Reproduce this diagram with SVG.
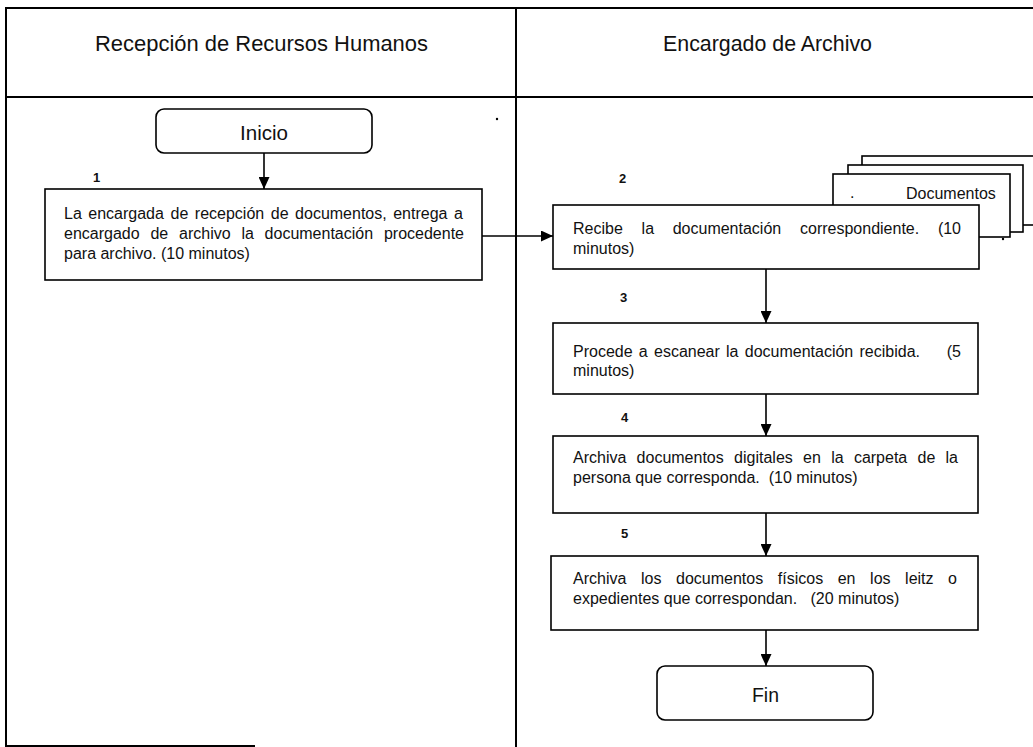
<svg xmlns="http://www.w3.org/2000/svg" width="1033" height="747" viewBox="0 0 1033 747">
<style>
.lane{stroke:#000;stroke-width:2;fill:none}
.box{fill:#fff;stroke:#000;stroke-width:1.6}
.term{fill:#fff;stroke:#000;stroke-width:1.6}
.hdr{font-family:"Liberation Sans",Arial,sans-serif;font-size:22px;fill:#111}
.txt{font-family:"Liberation Sans",Arial,sans-serif;font-size:16px;fill:#111}
.ttl{font-family:"Liberation Sans",Arial,sans-serif;font-size:20px;fill:#111}
.num{font-family:"Liberation Sans",Arial,sans-serif;font-size:13px;font-weight:bold;fill:#111}
.e{text-anchor:end}
.con{stroke:#000;stroke-width:1.6;fill:none;marker-end:url(#ah)}
</style>
<defs>
<marker id="ah" markerUnits="userSpaceOnUse" markerWidth="12" markerHeight="11" refX="12" refY="5.5" orient="auto">
<path d="M0,0 L12,5.5 L0,11 z" fill="#000"/>
</marker>
</defs>
<rect width="1033" height="747" fill="#fff"/>
<g id="lanes">
<line class="lane" x1="5" y1="8" x2="1033" y2="8"/>
<line class="lane" x1="5" y1="97" x2="1033" y2="97"/>
<line class="lane" x1="6" y1="8" x2="6" y2="747"/>
<line class="lane" x1="516" y1="8" x2="516" y2="747"/>
<line class="lane" x1="6" y1="746" x2="255" y2="746"/>
<text class="hdr" x="95" y="51" textLength="333" lengthAdjust="spacingAndGlyphs">Recepción de Recursos Humanos</text>
<text class="hdr" x="663" y="51" textLength="209" lengthAdjust="spacingAndGlyphs">Encargado de Archivo</text>
</g>
<g id="inicio">
<rect class="term" x="156" y="109" width="216" height="44" rx="8"/>
<text class="ttl" x="240" y="140" textLength="48" lengthAdjust="spacingAndGlyphs">Inicio</text>
</g>
<g id="step1">
<text class="num" x="93" y="182">1</text>
<rect class="box" x="45" y="189" width="437" height="91"/>
<text class="txt" y="219"><tspan x="64">La</tspan><tspan x="88.3">encargada</tspan><tspan x="170.5">de</tspan><tspan x="194.8">recepción</tspan><tspan x="270.8">de</tspan><tspan x="295.1">documentos,</tspan><tspan x="393.2">entrega</tspan><tspan class="e" x="463">a</tspan></text>
<text class="txt" y="239"><tspan x="64">encargado</tspan><tspan x="150.4">de</tspan><tspan x="179">archivo</tspan><tspan x="241.4">la</tspan><tspan x="264.6">documentación</tspan><tspan class="e" x="464">procedente</tspan></text>
<text class="txt" x="64" y="259">para archivo. (10 minutos)</text>
</g>
<g id="documentos">
<rect class="box" x="862" y="156" width="180" height="69"/>
<rect class="box" x="848" y="165" width="175" height="67"/>
<rect class="box" x="833" y="174" width="177" height="63"/>
<text class="txt" x="850" y="198">.</text>
<text class="txt" x="906" y="199">Documentos</text>
</g>
<g id="step2">
<text class="num" x="619" y="183">2</text>
<rect class="box" x="553" y="205" width="426" height="64"/>
<text class="txt" y="234"><tspan x="573">Recibe</tspan><tspan x="641.6">la</tspan><tspan x="672.7">documentación</tspan><tspan x="800">correspondiente.</tspan><tspan class="e" x="961">(10</tspan></text>
<text class="txt" x="573" y="254">minutos)</text>
</g>
<g id="step3">
<text class="num" x="620" y="302">3</text>
<rect class="box" x="553" y="323" width="425" height="71"/>
<text class="txt" x="573" y="357" word-spacing="1.8">Procede a escanear la documentación recibida.</text>
<text class="txt e" x="961" y="357">(5</text>
<text class="txt" x="573" y="376">minutos)</text>
</g>
<g id="step4">
<text class="num" x="621" y="422">4</text>
<rect class="box" x="553" y="436" width="425" height="77"/>
<text class="txt" y="463"><tspan x="573">Archiva</tspan><tspan x="636.6">documentos</tspan><tspan x="734.1">digitales</tspan><tspan x="803.1">en</tspan><tspan x="831.2">la</tspan><tspan x="853.9">carpeta</tspan><tspan x="917.6">de</tspan><tspan class="e" x="958">la</tspan></text>
<text class="txt" x="573" y="483" xml:space="preserve">persona que corresponda.  (10 minutos)</text>
</g>
<g id="step5">
<text class="num" x="621" y="538">5</text>
<rect class="box" x="551" y="556" width="427" height="74"/>
<text class="txt" y="584"><tspan x="573">Archiva</tspan><tspan x="641">los</tspan><tspan x="676">documentos</tspan><tspan x="777.8">físicos</tspan><tspan x="837.7">en</tspan><tspan x="870.1">los</tspan><tspan x="905.1">leitz</tspan><tspan class="e" x="957">o</tspan></text>
<text class="txt" x="573" y="604" xml:space="preserve">expedientes que correspondan.   (20 minutos)</text>
</g>
<g id="fin">
<rect class="term" x="657" y="666" width="216" height="54" rx="8"/>
<text class="ttl" x="752" y="702" textLength="27" lengthAdjust="spacingAndGlyphs">Fin</text>
</g>
<g id="connectors">
<line class="con" x1="264" y1="153" x2="264" y2="189"/>
<line class="con" x1="482" y1="236" x2="553" y2="236"/>
<line class="con" x1="766" y1="269" x2="766" y2="323"/>
<line class="con" x1="766" y1="394" x2="766" y2="436"/>
<line class="con" x1="766" y1="513" x2="766" y2="556"/>
<line class="con" x1="766" y1="630" x2="766" y2="666"/>
</g>
<g id="marks" fill="#000">
<circle cx="497" cy="119" r="1.2"/>
<circle cx="1003" cy="239" r="1.2"/>
</g>
</svg>
